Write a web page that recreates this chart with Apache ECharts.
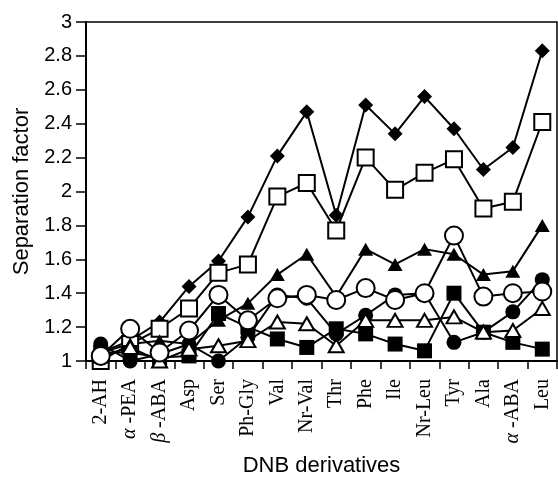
<!DOCTYPE html>
<html>
<head>
<meta charset="UTF-8">
<title>Separation factor</title>
<script src="https://cdn.jsdelivr.net/npm/echarts@6/dist/echarts.min.js"></script>
<style>
  html, body { margin: 0; padding: 0; background: #fff; }
  #main { width: 558px; height: 482px; }
</style>
</head>
<body>
<div id="main"></div>
<script>
// categories (DNB derivatives)
var categories = ['2-AH', 'α -PEA', 'β -ABA', 'Asp', 'Ser', 'Ph-Gly', 'Val', 'Nr-Val',
                  'Thr', 'Phe', 'Ile', 'Nr-Leu', 'Tyr', 'Ala', 'α -ABA', 'Leu'];

// separation factors
var filledDiamond = [1.05, 1.12, 1.23, 1.44, 1.59, 1.85, 2.21, 2.47, 1.86, 2.51, 2.34, 2.56, 2.37, 2.13, 2.26, 2.83];
var openSquare    = [1.00, 1.10, 1.19, 1.31, 1.52, 1.57, 1.97, 2.05, 1.77, 2.20, 2.01, 2.11, 2.19, 1.90, 1.94, 2.41];
var filledTri     = [1.05, 1.10, 1.12, 1.10, 1.24, 1.34, 1.51, 1.63, 1.38, 1.66, 1.57, 1.66, 1.63, 1.51, 1.53, 1.80];
var filledCircle  = [1.10, 1.00, 1.04, 1.10, 1.00, 1.14, 1.39, 1.37, 1.16, 1.27, 1.39, 1.40, 1.11, 1.17, 1.29, 1.48];
var filledSquare  = [1.05, 1.05, 1.02, 1.03, 1.28, 1.20, 1.13, 1.08, 1.19, 1.16, 1.10, 1.06, 1.40, 1.17, 1.11, 1.07];
var openTri       = [1.03, 1.08, 1.00, 1.07, 1.09, 1.12, 1.23, 1.22, 1.09, 1.24, 1.24, 1.24, 1.26, 1.17, 1.18, 1.31];
var openCircle    = [1.03, 1.19, 1.05, 1.18, 1.39, 1.24, 1.37, 1.39, 1.36, 1.43, 1.36, 1.40, 1.74, 1.38, 1.40, 1.41];

var yTicks = { min: 1, max: 3, step: 0.2 };

function line(name, data, symbol, size, filled) {
    return {
        name: name,
        type: 'line',
        data: data,
        symbol: symbol,
        symbolSize: size,
        showAllSymbol: true,
        animation: false,
        lineStyle: { color: '#000', width: 2 },
        itemStyle: {
            color: filled ? '#000' : '#fff',
            borderColor: '#000',
            borderWidth: filled ? 0 : 2
        }
    };
}

var chart = echarts.init(document.getElementById('main'));
chart.setOption({
    backgroundColor: '#fff',
    animation: false,
    grid: {
        left: 86, right: 1, top: 22, bottom: 121,
        show: true, borderColor: '#000', borderWidth: 1.5
    },
    xAxis: {
        type: 'category',
        data: categories,
        boundaryGap: true,
        name: 'DNB derivatives',
        nameLocation: 'middle',
        nameGap: 94,
        nameTextStyle: { fontFamily: 'Liberation Sans', fontSize: 22, color: '#000' },
        axisLine: { lineStyle: { color: '#000', width: 2 } },
        axisTick: { show: true, length: 8, inside: false, alignWithLabel: false, lineStyle: { color: '#000', width: 1.5 } },
        axisLabel: {
            rotate: 90,
            margin: 18,
            interval: 0,
            fontFamily: 'Liberation Serif',
            fontSize: 20,
            color: '#000',
            formatter: function (v) {
                var g = v.charAt(0);
                if (g === 'α' || g === 'β') {
                    return '{g|' + g + '}' + v.slice(1);
                }
                return v;
            },
            rich: {
                g: { fontFamily: 'Liberation Serif', fontStyle: 'italic', fontSize: 20, color: '#000' }
            }
        },
        splitLine: { show: false }
    },
    yAxis: {
        type: 'value',
        min: yTicks.min,
        max: yTicks.max,
        interval: yTicks.step,
        name: 'Separation factor',
        nameLocation: 'middle',
        nameGap: 52,
        nameTextStyle: { fontFamily: 'Liberation Sans', fontSize: 22, color: '#000' },
        axisLine: { show: true, lineStyle: { color: '#000', width: 2 } },
        axisTick: { show: true, length: 10, lineStyle: { color: '#000', width: 1.5 } },
        axisLabel: {
            margin: 14,
            fontFamily: 'Liberation Sans',
            fontSize: 20,
            color: '#000',
            formatter: function (v) { return String(Math.round(v * 10) / 10); }
        },
        splitLine: { show: false }
    },
    series: [
        line('filled diamond', filledDiamond, 'diamond', [15, 15], true),
        line('open square', openSquare, 'rect', [16, 16], false),
        line('filled triangle', filledTri, 'triangle', [15, 13], true),
        line('filled circle', filledCircle, 'circle', 15, true),
        line('filled square', filledSquare, 'rect', [15, 15], true),
        line('open triangle', openTri, 'triangle', [15, 13], false),
        line('open circle', openCircle, 'circle', 18, false)
    ]
});
</script>
</body>
</html>
